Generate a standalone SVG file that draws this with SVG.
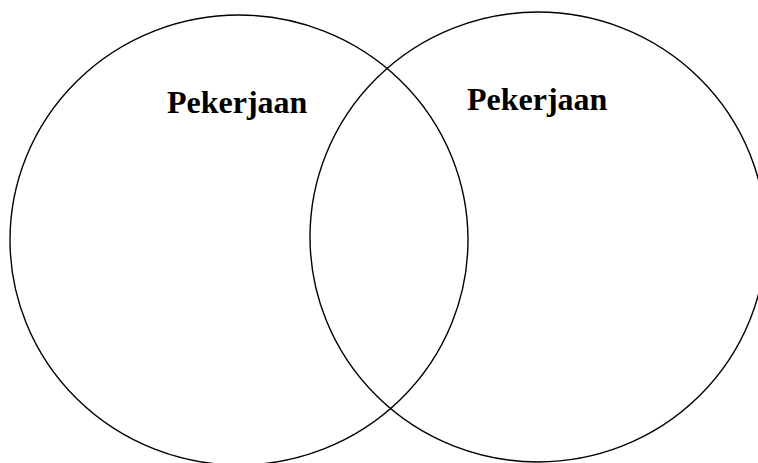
<svg xmlns="http://www.w3.org/2000/svg" width="758" height="463" viewBox="0 0 758 463">
<style>
.c{fill:none;stroke:#000;stroke-width:1.4}
.t{font-family:"Liberation Serif","Times New Roman",serif;font-weight:bold;font-size:32px;fill:#000}
</style>
<rect width="758" height="463" fill="#fff"/>
<g id="set-left">
<ellipse class="c" cx="239" cy="240" rx="229" ry="225"/>
<text class="t" x="167" y="113">Pekerjaan</text>
</g>
<g id="set-right">
<ellipse class="c" cx="538" cy="237" rx="228" ry="225"/>
<text class="t" x="467" y="110">Pekerjaan</text>
</g>
<g id="connectors"></g>
</svg>
